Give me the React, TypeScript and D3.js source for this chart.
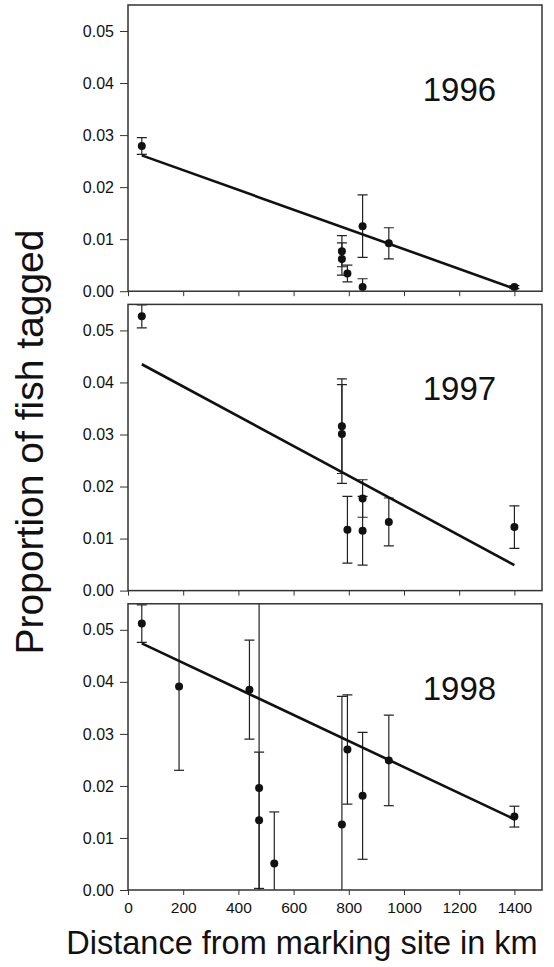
import React, { useEffect, useRef } from "react";
import * as d3 from "d3";

// distances (km) and proportions of tagged fish
const years = ["1996", "1997", "1998"];

const distances1996 = [50, 775, 775, 795, 850, 850, 945, 1400];
const proportions1996 = [0.0279, 0.0077, 0.0062, 0.0034, 0.0125, 0.0008, 0.0092, 0.0008];
const errors1996 = [0.0016, 0.003, 0.0031, 0.0016, 0.006, 0.0016, 0.003, 0.0003];
const fit1996 = [0.0261, 0.0005];

const distances1997 = [50, 775, 775, 795, 850, 850, 945, 1400];
const proportions1997 = [0.0527, 0.0316, 0.0301, 0.0117, 0.0177, 0.0115, 0.0132, 0.0122];
const errors1997 = [0.0022, 0.0091, 0.0095, 0.0064, 0.0036, 0.0066, 0.0046, 0.0041];
const fit1997 = [0.0435, 0.0049];

const distances1998 = [50, 185, 440, 475, 475, 530, 775, 795, 850, 945, 1400];
const proportions1998 = [0.0512, 0.0391, 0.0385, 0.0196, 0.0134, 0.0051, 0.0126, 0.027, 0.0181, 0.0249, 0.0141];
const errors1998 = [0.0036, 0.0161, 0.0095, 0.04, 0.0131, 0.0099, 0.0246, 0.0105, 0.0122, 0.0087, 0.002];
const fit1998 = [0.0474, 0.0136];

const fitRange = [50, 1400];
const xTicks = [0, 200, 400, 600, 800, 1000, 1200, 1400];
const yTicks = [0, 0.01, 0.02, 0.03, 0.04, 0.05];

const panels = [
  { year: years[0], x: distances1996, y: proportions1996, err: errors1996, fit: fit1996 },
  { year: years[1], x: distances1997, y: proportions1997, err: errors1997, fit: fit1997 },
  { year: years[2], x: distances1998, y: proportions1998, err: errors1998, fit: fit1998 },
];

const App = () => {
  const chartRef = useRef<HTMLDivElement>(null);

  useEffect(() => {
    const width = 554;
    const height = 967;
    const left = 128;
    const right = 542;
    const font = "'Liberation Sans', Arial, Helvetica, sans-serif";

    const x = d3.scaleLinear().domain([0, 1500]).range([left, right]);

    const band = d3
      .scaleBand()
      .domain(years)
      .range([5, 890])
      .paddingInner(0.044);

    const svg = d3
      .select(chartRef.current)
      .append("svg")
      .attr("width", width)
      .attr("height", height)
      .style("position", "absolute")
      .style("left", "0px")
      .style("top", "0px")
      .style("background", "#fff");

    panels.forEach((p, i) => {
      const top = band(p.year) as number;
      const bottom = top + band.bandwidth();
      const y = d3.scaleLinear().domain([0, 0.055]).range([bottom, top]);

      const clipId = `clip-${p.year}`;
      svg
        .append("clipPath")
        .attr("id", clipId)
        .append("rect")
        .attr("x", left)
        .attr("y", top)
        .attr("width", right - left)
        .attr("height", bottom - top);

      const g = svg.append("g").attr("clip-path", `url(#${clipId})`);

      const pts = p.x.map((d, j) => ({ d, v: p.y[j], e: p.err[j] }));

      // error bars
      const bars = g.selectAll(".err").data(pts).enter().append("g").attr("class", "err");
      bars
        .append("line")
        .attr("x1", (d) => x(d.d))
        .attr("x2", (d) => x(d.d))
        .attr("y1", (d) => y(d.v + d.e))
        .attr("y2", (d) => y(d.v - d.e))
        .attr("stroke", "#222")
        .attr("stroke-width", 1.2);
      [1, -1].forEach((s) => {
        bars
          .append("line")
          .attr("x1", (d) => x(d.d) - 5)
          .attr("x2", (d) => x(d.d) + 5)
          .attr("y1", (d) => y(d.v + s * d.e))
          .attr("y2", (d) => y(d.v + s * d.e))
          .attr("stroke", "#222")
          .attr("stroke-width", 1.2);
      });

      // regression line
      const line = d3
        .line<number>()
        .x((d, j) => x(fitRange[j]))
        .y((d) => y(d));
      g.append("path")
        .datum(p.fit)
        .attr("fill", "none")
        .attr("stroke", "#111")
        .attr("stroke-width", 2.6)
        .attr("d", line);

      g.selectAll(".dot")
        .data(pts)
        .enter()
        .append("circle")
        .attr("cx", (d) => x(d.d))
        .attr("cy", (d) => y(d.v))
        .attr("r", 4)
        .attr("fill", "#111");

      svg
        .append("text")
        .attr("x", x(1068))
        .attr("y", top + 96)
        .attr("font-family", font)
        .attr("font-size", 33)
        .attr("fill", "#111")
        .text(p.year);

      // frame
      svg
        .append("rect")
        .attr("x", left)
        .attr("y", top)
        .attr("width", right - left)
        .attr("height", bottom - top)
        .attr("fill", "none")
        .attr("stroke", "#333")
        .attr("stroke-width", 1.5);

      const yAxis = svg
        .append("g")
        .attr("transform", `translate(${left}, 0)`)
        .call(d3.axisLeft(y).tickValues(yTicks).tickFormat(d3.format(".2f")).tickSize(8).tickPadding(6));
      yAxis.select(".domain").remove();
      yAxis
        .selectAll("text")
        .style("font-family", font)
        .style("font-size", "16px")
        .style("fill", "#111");
      yAxis.selectAll(".tick line").attr("stroke", "#333");

      const xAxis = svg
        .append("g")
        .attr("transform", `translate(0, ${bottom})`)
        .call(d3.axisBottom(x).tickValues(xTicks).tickFormat(d3.format("d")).tickSize(5).tickPadding(7));
      xAxis.select(".domain").remove();
      xAxis.selectAll(".tick line").attr("stroke", "#333");
      if (i < panels.length - 1) {
        xAxis.selectAll("text").remove();
      } else {
        xAxis
          .selectAll("text")
          .style("font-family", font)
          .style("font-size", "15.5px")
          .style("fill", "#111");
      }
    });

    svg
      .append("text")
      .attr("transform", "translate(43, 442) rotate(-90)")
      .attr("text-anchor", "middle")
      .attr("font-family", font)
      .attr("font-size", 39)
      .attr("fill", "#111")
      .text("Proportion of fish tagged");

    svg
      .append("text")
      .attr("x", 302)
      .attr("y", 954)
      .attr("text-anchor", "middle")
      .attr("font-family", font)
      .attr("font-size", 32.5)
      .attr("fill", "#111")
      .text("Distance from marking site in km");

    return () => {
      svg.remove();
    };
  }, []);

  return <div ref={chartRef}></div>;
};

export default App;
